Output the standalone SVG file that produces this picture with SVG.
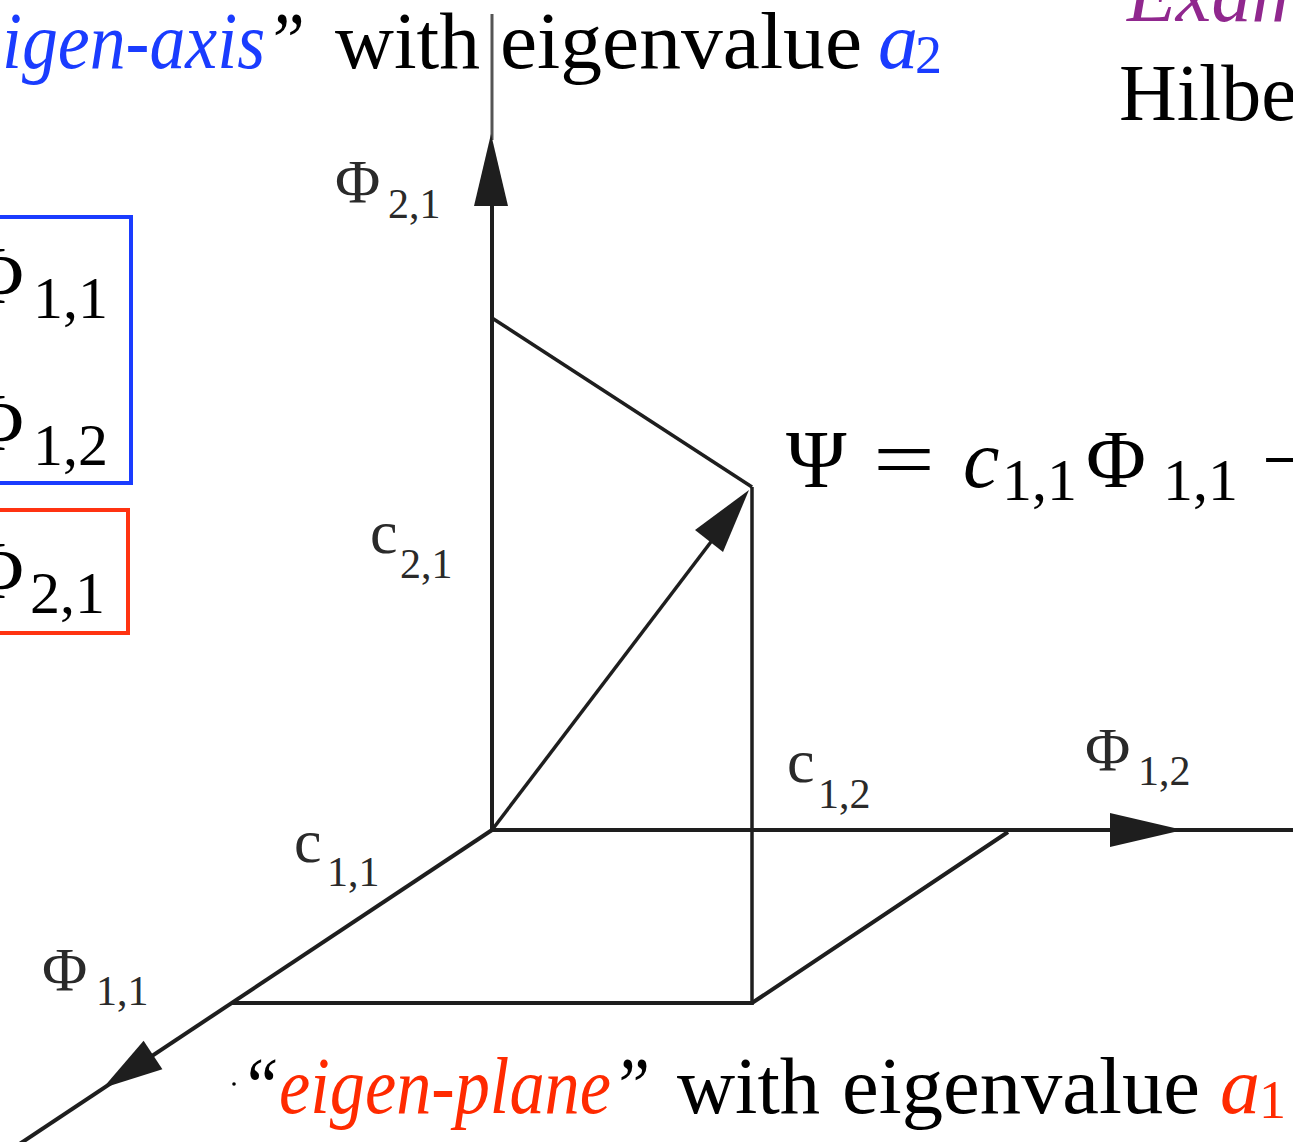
<svg xmlns="http://www.w3.org/2000/svg" width="1293" height="1142" viewBox="0 0 1293 1142">
<style>
  .t { font-family: "Liberation Serif", "Times New Roman", serif; }
  .big { font-size: 80px; fill: #000; }
  .it { font-style: italic; }
  .blue { fill: #1a3cff; }
  .red { fill: #ff2a00; }
  .purple { fill: #90278e; }
  .lab { font-size: 62px; fill: #2a2a2a; }
  .sub { font-size: 42px; fill: #2a2a2a; }
  .math { font-size: 82px; fill: #000; }
  .msub { font-size: 60px; fill: #000; }
  .ax { stroke: #1e1e1e; stroke-width: 4; fill: none; stroke-linecap: butt; }
  .pr { stroke: #1e1e1e; stroke-width: 3.5; fill: none; }
  .head { fill: #1e1e1e; }
</style>
<rect width="1293" height="1142" fill="#fff"/>

<g id="connectors">
  <line x1="492" y1="14" x2="492" y2="140" stroke="#555" stroke-width="3"/>
  <line class="ax" x1="492" y1="200" x2="492" y2="832"/>
  <polygon class="head" points="491,134 474,206 508,206"/>
  <line class="ax" x1="490" y1="830" x2="1293" y2="830"/>
  <polygon class="head" points="1183,830 1110,813 1110,847"/>
  <line class="ax" x1="492" y1="830" x2="15" y2="1147"/>
  <polygon class="head" points="103,1088 143.6,1040.8 162.4,1069.2"/>
  <polyline class="ax" points="232,1003 752,1003 1008,832"/>
  <line class="pr" x1="752" y1="487" x2="752" y2="1005"/>
  <line class="pr" x1="492" y1="318" x2="752" y2="487"/>
  <line class="pr" x1="492" y1="830" x2="720" y2="530"/>
  <polygon class="head" points="749,490 695,530 723,552"/>
</g>

<g id="title-top">
  <text class="t big it" x="2" y="68" textLength="303" lengthAdjust="spacingAndGlyphs"><tspan class="blue">igen-axis</tspan>”</text>
  <text class="t big" x="335" y="68" textLength="145" lengthAdjust="spacingAndGlyphs">with</text>
  <text class="t big" x="500" y="68" textLength="362" lengthAdjust="spacingAndGlyphs">eigenvalue</text>
  <text class="t big it blue" x="878" y="68">a</text>
  <text class="t blue" x="915" y="73" font-size="54">2</text>
</g>

<g id="title-right">
  <text class="t big it purple" x="1127" y="21">Exam</text>
  <text class="t big" x="1119" y="120">Hilbe</text>
</g>

<g id="box-blue">
  <rect x="-10" y="217" width="141" height="266" fill="none" stroke="#1a3cff" stroke-width="4"/>
  <text class="t math" x="-36" y="303">Φ</text>
  <text class="t msub" x="33" y="318">1,1</text>
  <text class="t math" x="-36" y="450">Φ</text>
  <text class="t msub" x="33" y="465">1,2</text>
</g>

<g id="box-red">
  <rect x="-10" y="510" width="138" height="123" fill="none" stroke="#ff3311" stroke-width="4"/>
  <text class="t math" x="-36" y="598">Φ</text>
  <text class="t msub" x="30" y="613">2,1</text>
</g>

<g id="equation">
  <text class="t math" x="786" y="487">Ψ</text>
  <text class="t math" x="873" y="487" textLength="62" lengthAdjust="spacingAndGlyphs">=</text>
  <text class="t math it" x="963" y="487">c</text>
  <text class="t msub" x="1002" y="500">1,1</text>
  <text class="t math" x="1086" y="487">Φ</text>
  <text class="t msub" x="1163" y="500">1,1</text>
  <text class="t math" x="1262" y="487">−</text>
</g>

<g id="label-phi21"><text class="t lab" x="335" y="202">Φ</text><text class="t sub" x="388" y="218">2,1</text></g>
<g id="label-c21"><text class="t lab" x="370" y="553" font-size="66">c</text><text class="t sub" x="400" y="578">2,1</text></g>
<g id="label-c12"><text class="t lab" x="787" y="782" font-size="66">c</text><text class="t sub" x="818" y="808">1,2</text></g>
<g id="label-phi12"><text class="t lab" x="1085" y="770">Φ</text><text class="t sub" x="1138" y="785">1,2</text></g>
<g id="label-c11"><text class="t lab" x="294" y="862" font-size="66">c</text><text class="t sub" x="327" y="886">1,1</text></g>
<g id="label-phi11"><text class="t lab" x="42" y="990">Φ</text><text class="t sub" x="96" y="1005">1,1</text></g>

<g id="title-bottom">
  <circle cx="234" cy="1084" r="1.8" fill="#000"/>
  <text class="t big it" x="240" y="1113" textLength="410" lengthAdjust="spacingAndGlyphs">“<tspan class="red">eigen-plane</tspan>”</text>
  <text class="t big" x="677" y="1113" textLength="143" lengthAdjust="spacingAndGlyphs">with</text>
  <text class="t big" x="842" y="1113" textLength="358" lengthAdjust="spacingAndGlyphs">eigenvalue</text>
  <text class="t big it red" x="1220" y="1113">a</text>
  <text class="t red" x="1259" y="1118" font-size="54">1</text>
</g>
</svg>
